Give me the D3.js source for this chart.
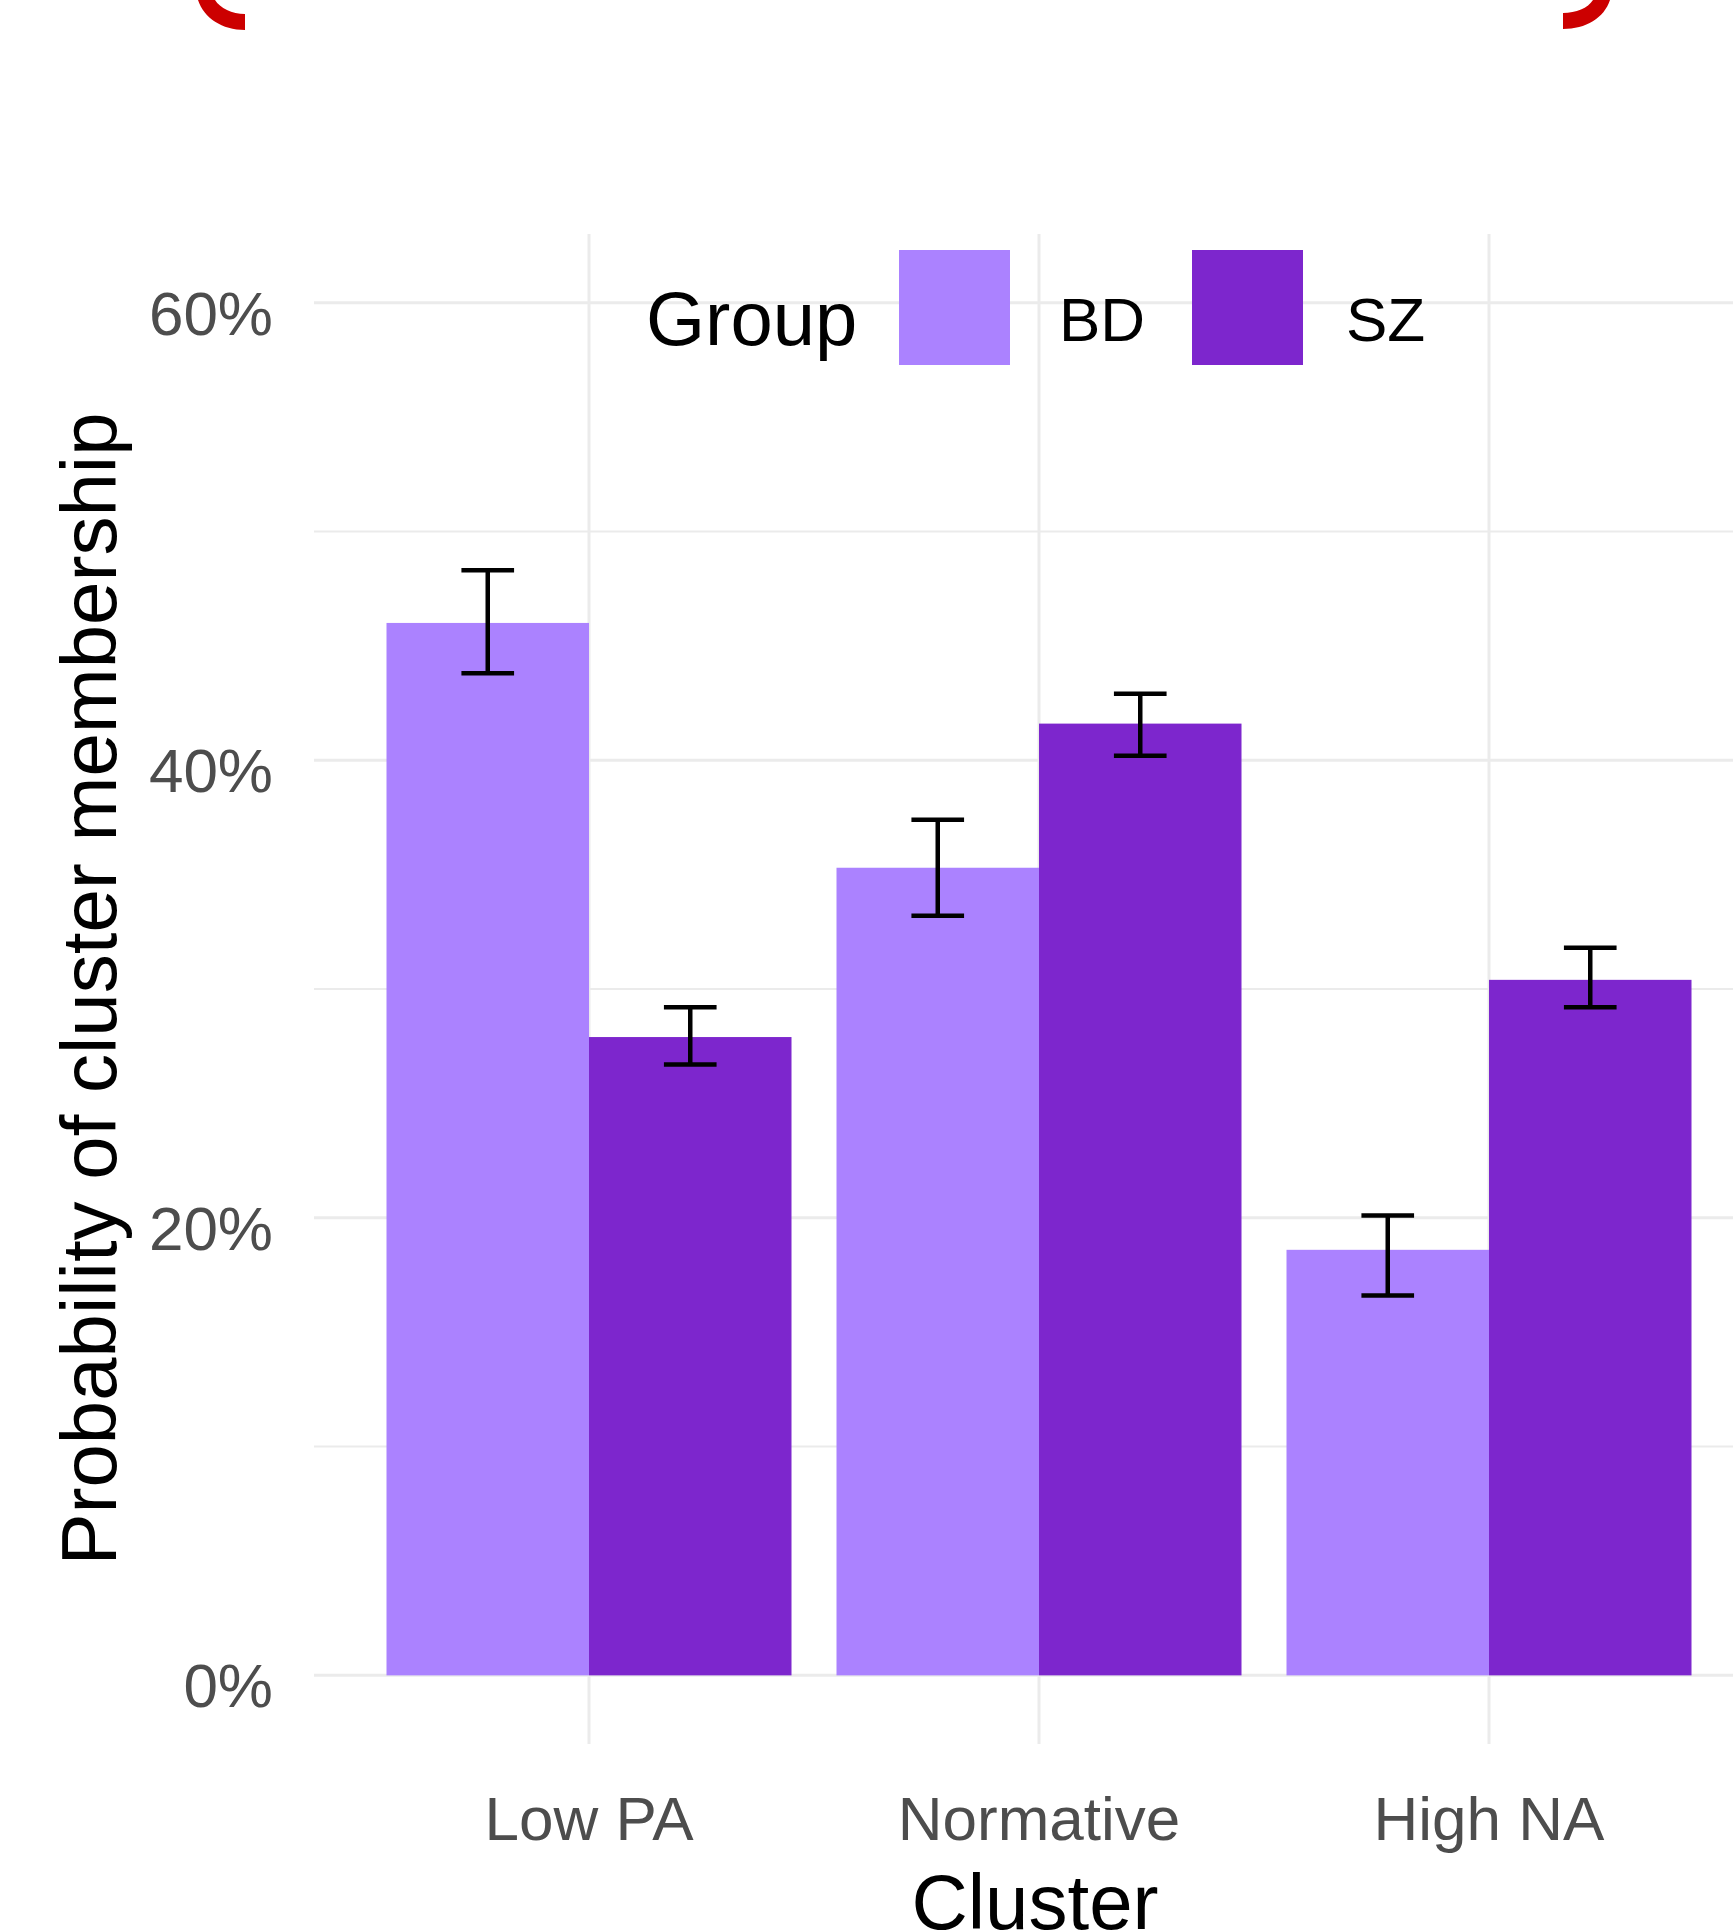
<!DOCTYPE html>
<html>
<head>
<meta charset="utf-8">
<script src="https://cdn.jsdelivr.net/npm/d3@7"></script>
<style>
  html, body { margin: 0; padding: 0; background: #fff; }
  svg { display: block; font-family: "Liberation Sans", Arial, sans-serif; }
</style>
</head>
<body>
<div id="chart"></div>
<script>
// values
const clusters = ['Low PA', 'Normative', 'High NA'];
const groups = ['BD', 'SZ'];
const bdValues = [0.460, 0.353, 0.186];
const bdLower = [0.438, 0.332, 0.166];
const bdUpper = [0.483, 0.374, 0.201];
const szValues = [0.279, 0.416, 0.304];
const szLower = [0.267, 0.402, 0.292];
const szUpper = [0.292, 0.429, 0.318];
const majorTicks = [0, 0.2, 0.4, 0.6];
const minorTicks = [0.1, 0.3, 0.5];
const groupColors = ['#ab82ff', '#7d26cd'];

const width = 1733, height = 1931;
const panel = { left: 319, right: 1759, top: 234, bottom: 1744 };

const rows = [];
clusters.forEach((c, i) => {
  rows.push({ cluster: c, group: 'BD', value: bdValues[i], lo: bdLower[i], hi: bdUpper[i] });
  rows.push({ cluster: c, group: 'SZ', value: szValues[i], lo: szLower[i], hi: szUpper[i] });
});

const svg = d3.select('#chart').append('svg')
  .attr('width', width)
  .attr('height', height);

svg.append('rect').attr('width', width).attr('height', height).attr('fill', '#fff');

const x = d3.scaleBand()
  .domain(clusters)
  .range([panel.left, panel.right])
  .paddingInner(0.1)
  .paddingOuter(0.15);

const xSub = d3.scaleBand()
  .domain(groups)
  .range([0, x.bandwidth()]);

const y = d3.scaleLinear()
  .domain([-0.03, 0.63])
  .range([panel.bottom, panel.top]);

const color = d3.scaleOrdinal().domain(groups).range(groupColors);

// grid (panel runs off the right edge, like the picture)
const grid = svg.append('g').attr('stroke', '#ebebeb');
grid.selectAll('.minor').data(minorTicks).join('line')
  .attr('x1', 314).attr('x2', panel.right)
  .attr('y1', d => y(d)).attr('y2', d => y(d))
  .attr('stroke-width', 2);
grid.selectAll('.major').data(majorTicks).join('line')
  .attr('x1', 314).attr('x2', panel.right)
  .attr('y1', d => y(d)).attr('y2', d => y(d))
  .attr('stroke-width', 3);
grid.selectAll('.vert').data(clusters).join('line')
  .attr('x1', d => x(d) + x.bandwidth() / 2).attr('x2', d => x(d) + x.bandwidth() / 2)
  .attr('y1', panel.top).attr('y2', panel.bottom)
  .attr('stroke-width', 3);

// bars
svg.append('g').selectAll('rect').data(rows).join('rect')
  .attr('x', d => x(d.cluster) + xSub(d.group))
  .attr('width', xSub.bandwidth())
  .attr('y', d => y(d.value))
  .attr('height', d => y(0) - y(d.value))
  .attr('fill', d => color(d.group));

// error bars
const capW = xSub.bandwidth() * 0.26;
const err = svg.append('g').attr('stroke', '#000').attr('stroke-width', 4.5).attr('fill', 'none');
rows.forEach(d => {
  const cx = x(d.cluster) + xSub(d.group) + xSub.bandwidth() / 2;
  err.append('path')
    .attr('d', `M${cx - capW / 2},${y(d.hi)}H${cx + capW / 2}M${cx},${y(d.hi)}V${y(d.lo)}M${cx - capW / 2},${y(d.lo)}H${cx + capW / 2}`);
});

// y axis labels
svg.append('g').selectAll('text').data(majorTicks).join('text')
  .attr('x', 273)
  .attr('y', d => y(d) + 32)
  .attr('text-anchor', 'end')
  .attr('font-size', 62)
  .attr('fill', '#4d4d4d')
  .text(d3.format('.0%'));

// x axis labels
svg.append('g').selectAll('text').data(clusters).join('text')
  .attr('x', d => x(d) + x.bandwidth() / 2)
  .attr('y', 1840)
  .attr('text-anchor', 'middle')
  .attr('font-size', 62)
  .attr('fill', '#4d4d4d')
  .text(d => d);

// axis titles
svg.append('text')
  .attr('x', 1035)
  .attr('y', 1929)
  .attr('text-anchor', 'middle')
  .attr('font-size', 78)
  .attr('fill', '#000')
  .text('Cluster');

svg.append('text')
  .attr('transform', `translate(116,${(panel.top + panel.bottom) / 2}) rotate(-90)`)
  .attr('text-anchor', 'middle')
  .attr('font-size', 78)
  .attr('fill', '#000')
  .text('Probability of cluster membership');

// legend
const legend = svg.append('g');
legend.append('text')
  .attr('x', 646).attr('y', 345)
  .attr('font-size', 76)
  .attr('fill', '#000')
  .text('Group');
const keyX = [899, 1192];
const labelX = [1059, 1346];
groups.forEach((g, i) => {
  legend.append('rect')
    .attr('x', keyX[i]).attr('y', 250)
    .attr('width', 111).attr('height', 115)
    .attr('fill', color(g));
  legend.append('text')
    .attr('x', labelX[i]).attr('y', 341)
    .attr('font-size', 62)
    .attr('fill', '#000')
    .text(g);
});

// red bracket ends at the top edge
const red = svg.append('g').attr('fill', '#cc0000');
red.append('path').attr('d', 'M198,0 C204,18 222,30 245,30 L245,14 C232,14 220,8 215,0 Z');
red.append('path').attr('d', 'M1610,0 C1604,18 1586,29 1563,29 L1563,13 C1576,13 1588,8 1593,0 Z');
</script>
</body>
</html>
